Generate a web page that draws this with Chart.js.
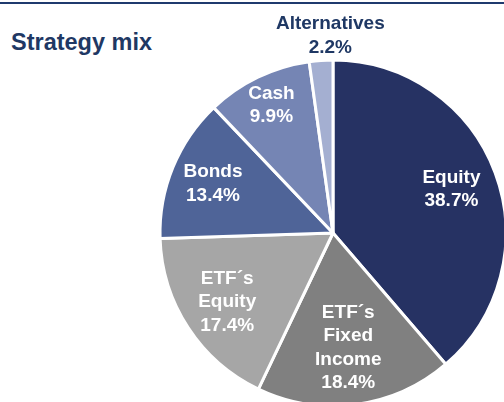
<!DOCTYPE html>
<html>
<head>
<meta charset="utf-8">
<script src="https://cdn.jsdelivr.net/npm/chart.js@4/dist/chart.umd.min.js"></script>
<style>
  html, body { margin: 0; padding: 0; width: 504px; height: 402px; overflow: hidden; background: #fff; position: relative; }
  #topline { position: absolute; left: 0; top: 2px; width: 504px; height: 2px; background: #1f3a6e; }
  #title { position: absolute; left: 11px; top: 30px; font: bold 23.5px "Liberation Sans", Arial, sans-serif; line-height: 24px; color: #1f3864; white-space: nowrap; }
  #c { position: absolute; left: 103px; top: 3px; }
</style>
</head>
<body>
<div id="topline"></div>
<div id="title">Strategy mix</div>
<canvas id="c" width="460" height="460"></canvas>
<script>
// Data
const categories = ["Equity", "ETF´s Fixed Income", "ETF´s Equity", "Bonds", "Cash", "Alternatives"];
const labelLines = [["Equity"], ["ETF´s", "Fixed", "Income"], ["ETF´s", "Equity"], ["Bonds"], ["Cash"], ["Alternatives"]];
const values = [38.7, 18.4, 17.4, 13.4, 9.9, 2.2];

// Styles
const colors = ["#263263", "#808080", "#a6a6a6", "#4f6498", "#7585b4", "#a4afd1"];
const labelColors = ["#ffffff", "#ffffff", "#ffffff", "#ffffff", "#ffffff", "#1f3864"];
const labelRadiusFrac = [0.73, 0.67, 0.73, 0.75, 0.82, 1.142];
const labelNudgeX = [0, 0, 0, 0, 0, 11];

const labelPlugin = {
  id: 'sliceLabels',
  afterDatasetsDraw(chart) {
    const ctx = chart.ctx;
    const meta = chart.getDatasetMeta(0);
    ctx.save();
    ctx.font = 'bold 19px "Liberation Sans", Arial, sans-serif';
    ctx.textAlign = 'center';
    ctx.textBaseline = 'middle';
    const lh = 23.5;
    meta.data.forEach((arc, i) => {
      const p = arc.getProps(['x', 'y', 'startAngle', 'endAngle', 'outerRadius'], true);
      const mid = (p.startAngle + p.endAngle) / 2;
      const r = p.outerRadius * labelRadiusFrac[i];
      const cx = p.x + Math.cos(mid) * r + labelNudgeX[i];
      const cy = p.y + Math.sin(mid) * r;
      const lines = labelLines[i].concat([values[i].toFixed(1) + '%']);
      const n = lines.length;
      ctx.fillStyle = labelColors[i];
      lines.forEach((t, k) => {
        ctx.fillText(t, cx, cy + (k - (n - 1) / 2) * lh);
      });
    });
    ctx.restore();
  }
};

new Chart(document.getElementById('c'), {
  type: 'pie',
  data: {
    labels: categories,
    datasets: [{
      data: values,
      backgroundColor: colors,
      borderColor: '#ffffff',
      borderWidth: 3,
      hoverOffset: 0,
      radius: 173
    }]
  },
  options: {
    responsive: false,
    animation: false,
    events: [],
    layout: { padding: 0 },
    plugins: {
      legend: { display: false },
      tooltip: { enabled: false },
      title: { display: false }
    }
  },
  plugins: [labelPlugin]
});
</script>
</body>
</html>
